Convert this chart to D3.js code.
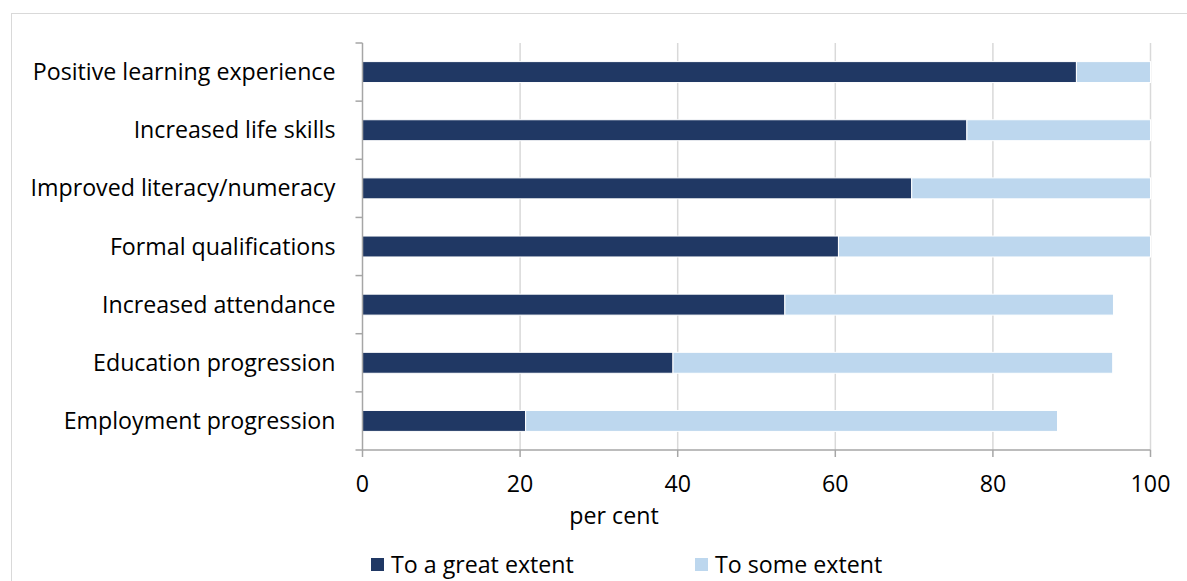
<!DOCTYPE html>
<html><head><meta charset="utf-8">
<script src="https://cdn.jsdelivr.net/npm/d3@7"></script>
<style>body{margin:0;background:#fff}svg{display:block}text{font-family:"Open Sans",sans-serif;fill:#000}</style>
</head><body><svg id="c" width="1187" height="581"></svg>
<script>
const categories = ["Positive learning experience","Increased life skills","Improved literacy/numeracy","Formal qualifications","Increased attendance","Education progression","Employment progression"];
const greatExtent = [90.6, 76.7, 69.7, 60.4, 53.6, 39.4, 20.7];
const someExtent  = [9.4, 23.3, 30.3, 39.6, 41.7, 55.8, 67.5];
const xTicks = [0, 20, 40, 60, 80, 100];
const seriesNames = ["To a great extent", "To some extent"];
const colors = ["#203864", "#bdd7ee"];
const FS = 23.2;

const svg = d3.select("#c");
svg.append("rect").attr("x",11.5).attr("y",13.5).attr("width",1200).attr("height",600)
  .attr("fill","none").attr("stroke","#d9d9d9").attr("stroke-width",1);

const m = {left:362.5, right:1150.5, top:43, bottom:450};
const x = d3.scaleLinear().domain([0,100]).range([m.left, m.right]);
const y = d3.scaleBand().domain(categories).range([m.top, m.bottom]).paddingInner(0.64).paddingOuter(0.32);
const yb = d3.scaleBand().domain(categories).range([m.top, m.bottom]);

svg.append("g").selectAll("line").data(xTicks.slice(1)).join("line")
  .attr("x1",d=>x(d)).attr("x2",d=>x(d)).attr("y1",m.top).attr("y2",m.bottom)
  .attr("stroke","#d9d9d9").attr("stroke-width",1.5);

const stack = categories.map((c,i)=>({c, a:greatExtent[i], b:someExtent[i]}));
const g = svg.append("g");
g.selectAll("rect.a").data(stack).join("rect").attr("class","a")
  .attr("x",x(0)).attr("y",d=>y(d.c)).attr("width",d=>x(d.a)-x(0)).attr("height",y.bandwidth())
  .attr("fill",colors[0]).attr("stroke","#ffffff").attr("stroke-width",1);
g.selectAll("rect.b").data(stack).join("rect").attr("class","b")
  .attr("x",d=>x(d.a)).attr("y",d=>y(d.c)).attr("width",d=>x(d.a+d.b)-x(d.a)).attr("height",y.bandwidth())
  .attr("fill",colors[1]).attr("stroke","#ffffff").attr("stroke-width",1);

const ya = svg.append("g").attr("transform",`translate(${m.left},0)`);
ya.append("line").attr("x1",0).attr("x2",0).attr("y1",m.top).attr("y2",m.bottom).attr("stroke","#a6a6a6").attr("stroke-width",1.5);
const bounds = categories.map(c=>yb(c)).concat([m.bottom]);
ya.selectAll("line.t").data(bounds).join("line").attr("class","t")
  .attr("x1",-7).attr("x2",0).attr("y1",d=>d).attr("y2",d=>d).attr("stroke","#a6a6a6").attr("stroke-width",1.5);
ya.selectAll("text").data(categories).join("text")
  .attr("x",-27).attr("y",c=>yb(c)+yb.bandwidth()/2).attr("dy","0.35em")
  .attr("text-anchor","end").attr("font-size",FS).text(c=>c);

const xa = svg.append("g").attr("transform",`translate(0,${m.bottom})`);
xa.append("line").attr("x1",m.left).attr("x2",m.right).attr("stroke","#a6a6a6").attr("stroke-width",1.5);
xa.selectAll("line.t").data(xTicks).join("line").attr("class","t")
  .attr("x1",d=>x(d)).attr("x2",d=>x(d)).attr("y1",0).attr("y2",7).attr("stroke","#a6a6a6").attr("stroke-width",1.5);
xa.selectAll("text").data(xTicks).join("text")
  .attr("x",d=>x(d)).attr("y",42).attr("text-anchor","middle").attr("font-size",FS).text(d=>d);
svg.append("text").attr("x",614).attr("y",524).attr("text-anchor","middle").attr("font-size",FS).text("per cent");

const lg = svg.append("g");
const lx = [371, 695];
seriesNames.forEach((n,i)=>{
  lg.append("rect").attr("x",lx[i]).attr("y",558).attr("width",13).attr("height",13).attr("fill",colors[i]);
  lg.append("text").attr("x",lx[i]+20).attr("y",565).attr("dy","0.35em").attr("font-size",FS).text(n);
});
</script></body></html>
